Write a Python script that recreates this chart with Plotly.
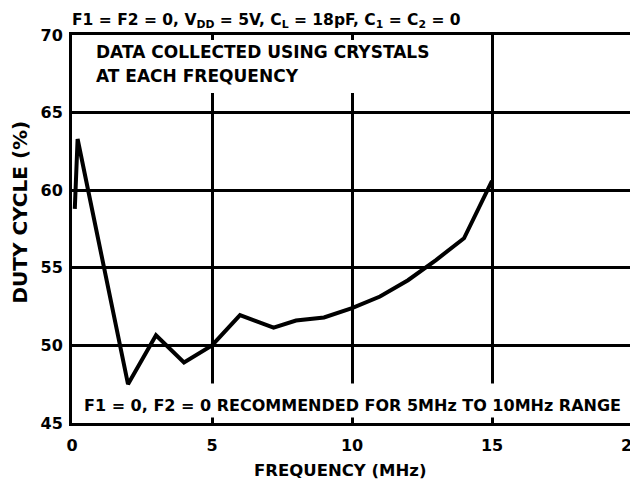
import plotly.graph_objects as go

freq = [0.1, 0.2, 2, 3, 4, 5, 6, 7.2, 8, 9, 10, 11, 12, 13, 14, 15]
duty = [58.8, 63.3, 47.5, 50.65, 48.9, 50.0, 51.95, 51.15, 51.6, 51.8, 52.4, 53.15, 54.2, 55.5, 56.9, 60.6]

x_ticks = [0, 5, 10, 15, 20]
y_ticks = [45, 50, 55, 60, 65, 70]

FONT = "DejaVu Sans"
SIZE = 16

fig = go.Figure()
fig.add_trace(go.Scatter(x=freq, y=duty, mode="lines",
                         line=dict(color="black", width=4), showlegend=False,
                         hoverinfo="skip"))

axis_common = dict(showgrid=True, gridcolor="black", gridwidth=3,
                   showline=True, linecolor="black", linewidth=3, mirror=True,
                   zeroline=False, ticks="outside", ticklen=0, automargin=False,
                   ticklabeloverflow="allow",
                   tickfont=dict(family=FONT, size=SIZE, color="black", weight="bold"))

fig.update_xaxes(range=[0, 20], tickvals=x_ticks, ticktext=[str(v) for v in x_ticks],
                 ticklabelstandoff=6, **axis_common)
fig.update_yaxes(range=[45, 70], tickvals=y_ticks, ticktext=[str(v) for v in y_ticks],
                 ticklabelstandoff=3, **axis_common)

# white gaps where the notes sit over the grid
fig.add_shape(type="rect", xref="x", yref="y", x0=0.6, x1=13.1, y0=66.26, y1=69.68,
              fillcolor="white", line=dict(width=0), layer="between")
fig.add_shape(type="rect", xref="x", yref="y", x0=0.2, x1=19.75, y0=45.35, y1=47.55,
              fillcolor="white", line=dict(width=0), layer="between")

ann_font = dict(family=FONT, size=SIZE, color="black", weight="bold")
fig.add_annotation(xref="paper", yref="paper", x=0, y=1, xanchor="left", yanchor="bottom",
                   yshift=2, xshift=-2, showarrow=False, align="left",
                   text="F1 = F2 = 0, V<sub>DD</sub> = 5V, C<sub>L</sub> = 18pF, C<sub>1</sub> = C<sub>2</sub> = 0",
                   font=dict(family=FONT, size=15.5, color="black", weight="bold"))
top_font = dict(family=FONT, size=17, color="black", weight="bold")
fig.add_annotation(xref="x", yref="y", x=0.8, y=68.9, xanchor="left", yanchor="middle",
                   showarrow=False, align="left",
                   text="DATA COLLECTED USING CRYSTALS", font=top_font)
fig.add_annotation(xref="x", yref="y", x=0.8, y=67.35, xanchor="left", yanchor="middle",
                   showarrow=False, align="left",
                   text="AT EACH FREQUENCY", font=top_font)
fig.add_annotation(xref="x", yref="y", x=0.35, y=46.15, xanchor="left", yanchor="middle",
                   showarrow=False, align="left",
                   text="F1 = 0, F2 = 0 RECOMMENDED FOR 5MHz TO 10MHz RANGE", font=ann_font)

# axis titles
fig.add_annotation(xref="paper", yref="paper", x=0.479, y=0, yshift=-47,
                   xanchor="center", yanchor="middle", showarrow=False,
                   text="FREQUENCY (MHz)", font=dict(family=FONT, size=16.5, color="black", weight="bold"))
fig.add_annotation(xref="paper", yref="paper", x=-0.0929, y=0.545,
                   xanchor="center", yanchor="middle", showarrow=False, textangle=-90,
                   borderpad=0,
                   text="DUTY CYCLE (%)", font=dict(family=FONT, size=20, color="black", weight="bold"))

# page body has an 8px margin: size the figure so the plot lands where the reference has it
fig.update_layout(width=630, height=479, plot_bgcolor="white", paper_bgcolor="white",
                  margin=dict(l=64, r=6, t=27, b=64), showlegend=False)

fig.write_html("out.html")
